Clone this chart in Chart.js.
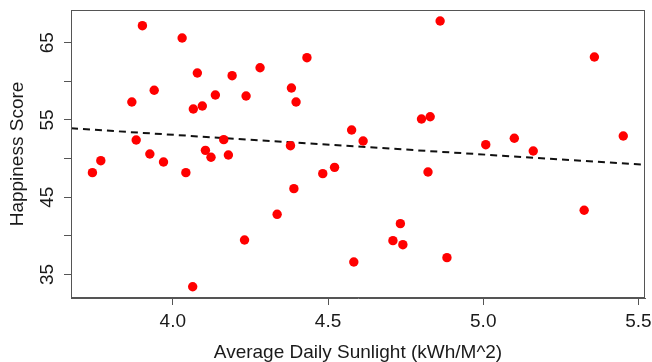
<!DOCTYPE html>
<html>
<head>
<meta charset="utf-8">
<script src="https://cdn.jsdelivr.net/npm/chart.js@4"></script>
<style>
  html, body { margin: 0; padding: 0; background: #fff; }
</style>
</head>
<body>
<canvas id="plot" width="652" height="362"></canvas>
<script>
  // values
  const sunlight = [3.741, 3.768, 3.868, 3.882, 3.902, 3.926, 3.940, 3.970, 4.030, 4.042,
                    4.064, 4.066, 4.079, 4.095, 4.105, 4.123, 4.137, 4.164, 4.179, 4.191,
                    4.231, 4.236, 4.281, 4.336, 4.382, 4.379, 4.390, 4.397, 4.432, 4.483,
                    4.521, 4.576, 4.583, 4.613, 4.709, 4.733, 4.741, 4.801, 4.829, 4.822,
                    4.861, 4.883, 5.008, 5.100, 5.161, 5.325, 5.358, 5.451];
  const happiness = [48.18, 49.73, 57.33, 52.41, 67.20, 50.60, 58.84, 49.56, 65.61, 48.18,
                     33.42, 56.42, 61.08, 56.81, 51.07, 50.17, 58.23, 52.45, 50.47, 60.73,
                     39.47, 58.10, 61.76, 42.79, 59.14, 51.67, 46.11, 57.33, 63.06, 48.05,
                     48.87, 53.70, 36.62, 52.28, 39.38, 41.58, 38.86, 55.13, 55.42, 48.27,
                     67.81, 37.18, 51.80, 52.63, 50.98, 43.31, 63.15, 52.93];

  const xTicks = [4.0, 4.5, 5.0, 5.5];
  const yTicks = [35, 40, 45, 50, 55, 60, 65];
  const yLabelled = [35, 45, 55, 65];
  const xRange = [3.672, 5.521];
  const yRange = [31.96, 69.23];

  // dashed fit line (intercept / slope)
  const fitIntercept = 63.28;
  const fitSlope = -2.55;

  const FONT = { family: '"Liberation Sans", Arial, sans-serif', size: 19 };
  const INK = '#1a1a1a';
  const FRAME = '#555';

  const points = sunlight.map((x, i) => ({ x: x, y: happiness[i] }));
  const fitLine = xRange.map(x => ({ x: x, y: fitIntercept + fitSlope * x }));

  // R style box round the plot region
  const boxPlugin = {
    id: 'box',
    afterDraw(chart) {
      const a = chart.chartArea, ctx = chart.ctx;
      ctx.save();
      ctx.strokeStyle = FRAME;
      ctx.lineWidth = 1;
      ctx.strokeRect(a.left + 0.5, a.top + 0.5, a.right - a.left - 1, a.bottom - a.top - 1);
      ctx.restore();
    }
  };

  // no label overhang padding, the plot region is fixed by layout.padding
  function noPad(s) {
    s.paddingLeft = 0; s.paddingRight = 0; s.paddingTop = 0; s.paddingBottom = 0;
  }

  new Chart(document.getElementById('plot').getContext('2d'), {
    data: {
      datasets: [
        {
          type: 'scatter',
          data: points,
          pointRadius: 4.7,
          pointHoverRadius: 4.7,
          pointBackgroundColor: '#ff0000',
          pointBorderWidth: 0,
          order: 1
        },
        {
          type: 'line',
          data: fitLine,
          borderColor: '#111',
          borderWidth: 2,
          borderDash: [7, 5],
          pointRadius: 0,
          fill: false,
          order: 2
        }
      ]
    },
    options: {
      responsive: false,
      animation: false,
      layout: { autoPadding: false, padding: { left: 0, top: 10, right: 7, bottom: 0 } },
      plugins: { legend: { display: false }, tooltip: { enabled: false } },
      scales: {
        x: {
          type: 'linear',
          min: xRange[0],
          max: xRange[1],
          afterBuildTicks: s => { s.ticks = xTicks.map(v => ({ value: v })); },
          afterFit: s => { s.height = 64; noPad(s); },
          border: { display: true, color: FRAME, width: 1 },
          grid: { drawOnChartArea: false, drawTicks: true, tickLength: 7, color: FRAME },
          ticks: { padding: 5, color: INK, font: FONT, autoSkip: false, maxRotation: 0,
                   callback: v => Number(v).toFixed(1) },
          title: { display: true, text: 'Average Daily Sunlight (kWh/M^2)', color: INK, font: FONT,
                   padding: { top: 0, bottom: -2 } }
        },
        y: {
          type: 'linear',
          min: yRange[0],
          max: yRange[1],
          afterBuildTicks: s => { s.ticks = yTicks.map(v => ({ value: v })); },
          afterFit: s => { s.width = 71; noPad(s); },
          border: { display: true, color: FRAME, width: 1 },
          grid: { drawOnChartArea: false, drawTicks: true, tickLength: 7, color: FRAME },
          ticks: { padding: 6, color: INK, font: FONT, autoSkip: false, minRotation: 90, maxRotation: 90,
                   crossAlign: 'center',
                   callback: v => yLabelled.includes(v) ? String(v) : '' },
          title: { display: true, text: 'Happiness Score', color: INK, font: FONT,
                   padding: { top: 6, bottom: 0 } }
        }
      }
    },
    plugins: [boxPlugin]
  });
</script>
</body>
</html>
